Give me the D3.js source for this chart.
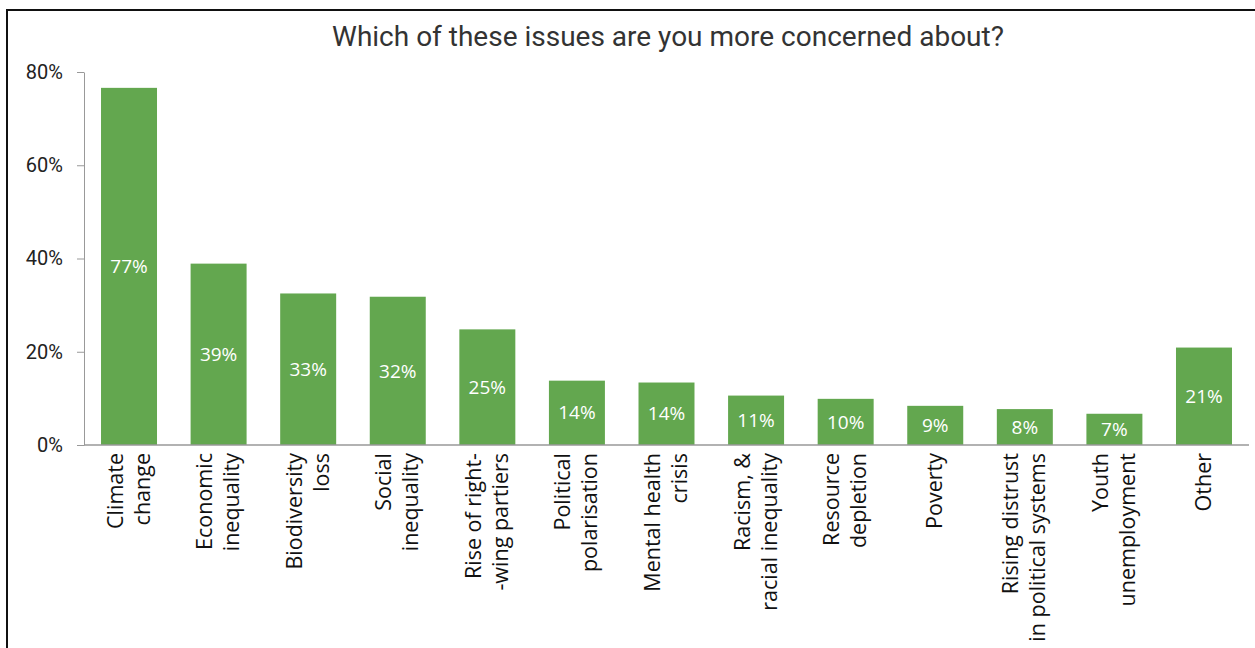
<!DOCTYPE html>
<html>
<head>
<meta charset="utf-8">
<script src="https://cdn.jsdelivr.net/npm/d3@7"></script>
<style>
  html, body { margin: 0; padding: 0; background: #fff; }
  svg { display: block; }
</style>
</head>
<body>
<svg id="chart" width="1255" height="648"></svg>
<script>
// Categories, each split into the lines the label wraps onto
var categories = [
    ['Climate', 'change'],
    ['Economic', 'inequality'],
    ['Biodiversity', 'loss'],
    ['Social', 'inequality'],
    ['Rise of right-', '-wing partiers'],
    ['Political', 'polarisation'],
    ['Mental health', 'crisis'],
    ['Racism, &', 'racial inequality'],
    ['Resource', 'depletion'],
    ['Poverty'],
    ['Rising distrust', 'in political systems'],
    ['Youth', 'unemployment'],
    ['Other']
];
// Share of respondents (%)
var shares = [76.6, 38.9, 32.5, 31.8, 24.8, 13.8, 13.4, 10.6, 9.9, 8.4, 7.7, 6.7, 20.9];
// Labels printed inside the bars
var shareLabels = ['77%', '39%', '33%', '32%', '25%', '14%', '14%', '11%', '10%', '9%', '8%', '7%', '21%'];
var yTicks = [0, 20, 40, 60, 80];
var title = 'Which of these issues are you more concerned about?';

var svg = d3.select('#chart');
var barColor = '#63a74f';
var axisColor = '#999';

//Frame lines (left and top only are visible)
svg.append('path')
    .attr('d', 'M7,648V10H1255')
    .attr('fill', 'none')
    .attr('stroke', '#111')
    .attr('stroke-width', 2);

svg.append('text')
    .attr('x', 668)
    .attr('y', 46)
    .attr('text-anchor', 'middle')
    .attr('font-family', 'Roboto')
    .attr('font-size', 28)
    .attr('fill', '#333')
    .text(title);

var keys = categories.map(function(c) { return c.join(' '); });

var x = d3.scaleBand()
    .domain(keys)
    .range([84, 1249])
    .paddingInner(0.375)
    .paddingOuter(0.19);

var y = d3.scaleLinear()
    .domain([0, 80])
    .range([445, 72]);

//Y axis
var yAxis = svg.append('g')
    .attr('transform', 'translate(84,0)')
    .call(d3.axisLeft(y)
        .tickValues(yTicks)
        .tickSize(7)
        .tickSizeOuter(0)
        .tickPadding(14)
        .tickFormat(function(d) { return d + '%'; }));
yAxis.selectAll('path, line').attr('stroke', axisColor);
yAxis.selectAll('text')
    .attr('font-family', 'Roboto')
    .attr('font-size', 20)
    .attr('fill', '#222');

//Bars
svg.selectAll('.bar')
    .data(shares)
    .enter()
    .append('rect')
    .attr('class', 'bar')
    .attr('x', function(d, i) { return x(keys[i]); })
    .attr('y', function(d) { return y(d); })
    .attr('width', x.bandwidth())
    .attr('height', function(d) { return y(0) - y(d); })
    .attr('fill', barColor);

//Values inside the bars
svg.selectAll('.val')
    .data(shares)
    .enter()
    .append('text')
    .attr('class', 'val')
    .attr('x', function(d, i) { return x(keys[i]) + x.bandwidth() / 2; })
    .attr('y', function(d) { return (y(d) + y(0)) / 2; })
    .attr('dy', '0.35em')
    .attr('text-anchor', 'middle')
    .attr('font-family', 'Open Sans')
    .attr('font-size', 19)
    .attr('fill', '#fff')
    .text(function(d, i) { return shareLabels[i]; });

//X axis line, no ticks
svg.append('line')
    .attr('x1', 84)
    .attr('x2', 1249)
    .attr('y1', y(0))
    .attr('y2', y(0))
    .attr('stroke', axisColor)
    .attr('stroke-width', 1.5);

//Rotated category labels
var lineH = 27;
var labels = svg.selectAll('.cat')
    .data(categories)
    .enter()
    .append('text')
    .attr('class', 'cat')
    .attr('transform', function(d, i) {
        return 'translate(' + (x(keys[i]) + x.bandwidth() / 2) + ',453) rotate(-90)';
    })
    .attr('text-anchor', 'end')
    .attr('font-family', 'Open Sans')
    .attr('font-size', 21.5)
    .attr('fill', '#111');

labels.each(function(lines) {
    var t = d3.select(this);
    lines.forEach(function(line, j) {
        t.append('tspan')
            .attr('x', 0)
            .attr('y', 7 + (j - (lines.length - 1) / 2) * lineH)
            .text(line);
    });
});
</script>
</body>
</html>
